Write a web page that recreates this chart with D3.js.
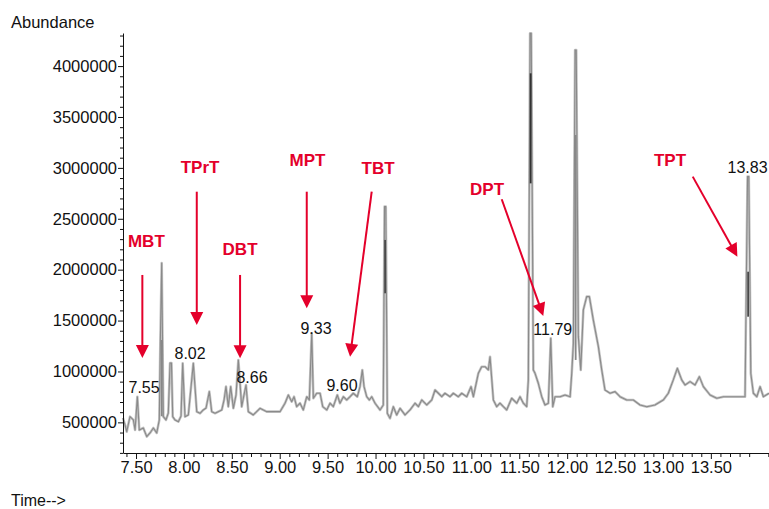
<!DOCTYPE html>
<html><head><meta charset="utf-8">
<script src="https://cdn.jsdelivr.net/npm/d3@7"></script>
<style>
body{margin:0;background:#fff}
svg text{font-family:"Liberation Sans",Arial,Helvetica,sans-serif}
</style>
</head><body>
<svg id="chart" width="769" height="509"></svg>
<script>
// ---- data ----
const times = [7.364,7.385,7.403,7.437,7.472,7.490,7.514,7.534,7.576,7.612,7.646,7.681,7.716,7.743,7.754,7.768,7.785,7.813,7.837,7.855,7.870,7.883,7.907,7.942,7.970,7.987,8.011,8.046,8.098,8.134,8.168,8.202,8.231,8.265,8.290,8.325,8.359,8.395,8.419,8.439,8.463,8.488,8.516,8.544,8.568,8.603,8.627,8.648,8.672,8.724,8.794,8.864,8.933,9.003,9.055,9.090,9.125,9.149,9.177,9.212,9.246,9.282,9.309,9.334,9.351,9.386,9.421,9.449,9.491,9.525,9.559,9.601,9.629,9.664,9.699,9.734,9.768,9.810,9.838,9.862,9.880,9.908,9.935,9.960,9.995,10.047,10.081,10.094,10.107,10.123,10.151,10.186,10.221,10.256,10.308,10.360,10.412,10.447,10.482,10.534,10.587,10.621,10.656,10.691,10.725,10.778,10.812,10.864,10.900,10.952,10.997,11.021,11.073,11.108,11.143,11.177,11.195,11.230,11.265,11.299,11.334,11.369,11.421,11.474,11.508,11.543,11.578,11.595,11.613,11.625,11.647,11.665,11.699,11.735,11.769,11.804,11.829,11.850,11.874,11.926,11.978,12.031,12.048,12.065,12.083,12.095,12.117,12.142,12.169,12.204,12.232,12.273,12.326,12.361,12.395,12.448,12.500,12.552,12.622,12.691,12.761,12.831,12.917,13.004,13.056,13.108,13.150,13.196,13.231,13.283,13.335,13.380,13.422,13.492,13.562,13.631,13.735,13.857,13.883,13.896,13.917,13.944,13.980,14.014,14.048,14.107];
const abundanceK = [543,474,409,556,524,425,752,425,445,360,396,445,396,524,1309,2066,556,524,592,1083,1083,556,524,507,563,1080,556,573,1080,605,589,622,641,802,605,589,605,622,720,851,654,851,638,769,1113,654,769,867,605,573,638,605,605,605,688,769,703,752,654,688,622,752,720,1375,737,786,786,654,622,688,654,769,688,752,720,752,786,752,851,1015,851,752,720,752,688,622,671,2619,2619,589,540,654,573,638,573,622,688,654,720,671,720,818,786,752,786,752,786,752,786,752,851,752,982,1047,1047,1015,1145,720,654,688,654,622,737,688,752,688,654,917,4322,4322,1015,982,884,752,671,688,1326,654,752,752,769,752,982,1277,4158,4158,1342,1015,1604,1735,1735,1506,1244,1015,818,786,802,752,720,720,671,654,671,720,786,917,1031,917,867,900,867,949,851,769,737,752,752,752,2914,2914,982,786,752,851,752,786];

// darker cores visible inside the tall peaks (time, low, high abundance)
const coreTimes = [11.619, 10.100, 13.889, 12.089, 7.768];
const coreLow   = [2848000, 1768000, 1538000, 1113000, 560000];
const coreHigh  = [3929000, 2292000, 1980000, 3323000, 1309000];

const xTickValues = [7.5,8.0,8.5,9.0,9.5,10.0,10.5,11.0,11.5,12.0,12.5,13.0,13.5];
const xTickLabels = ["7.50","8.00","8.50","9.00","9.50","10.00","10.50","11.00","11.50","12.00","12.50","13.00","13.50"];
const yTickValues = [500000,1000000,1500000,2000000,2500000,3000000,3500000,4000000];
const yTickLabels = ["500000","1000000","1500000","2000000","2500000","3000000","3500000","4000000"];

// compound annotations: label anchor (time, abundance) and arrow from -> to
const compounds   = ["MBT","TPrT","DBT","MPT","TBT","DPT","TPT"];
const labelT      = [7.608, 8.168, 8.586, 9.290, 10.026, 11.164, 13.074];
const labelV      = [2226000, 2947000, 2144000, 3019000, 2940000, 2734000, 3019000];
const arrowFromT  = [7.566, 8.134, 8.586, 9.282, 9.960, 11.317, 13.311];
const arrowFromV  = [1948000, 2766000, 1948000, 2766000, 2766000, 2692000, 2914000];
const arrowToT    = [7.566, 8.134, 8.586, 9.282, 9.734, 11.751, 13.777];
const arrowToV    = [1133000, 1457000, 1130000, 1621000, 1145000, 1545000, 2128000];

// retention time labels
const rtLabels = ["7.55","8.02","8.66","9.33","9.60","11.79","13.83"];
const rtT      = [7.584, 8.064, 8.711, 9.379, 9.650, 11.850, 13.883];
const rtV      = [789000, 1123000, 887000, 1368000, 811000, 1359000, 2950000];

// ---- drawing ----
const svg = d3.select("#chart");
svg.append("rect").attr("width",769).attr("height",509).attr("fill","#fff");

const x = d3.scaleLinear().domain([7.364, 14.107]).range([123, 769]);
const y = d3.scaleLinear().domain([200000, 4325000]).range([452.9, 33]);

const red = "#e4002b";
const points = times.map((t,i)=>({t, v: abundanceK[i]*1000}));

// trace: soft halo + core
const line = d3.line().x(d=>x(d.t)).y(d=>y(d.v));
svg.append("path").datum(points)
  .attr("d", line).attr("fill","none")
  .attr("stroke","#c4c4c4").attr("stroke-width",2.6)
  .attr("stroke-linejoin","round");
svg.append("path").datum(points)
  .attr("d", line).attr("fill","none")
  .attr("stroke","#8a8a8a").attr("stroke-width",1.1)
  .attr("stroke-linejoin","round");

// darker cores
svg.append("g").selectAll("line").data(coreTimes).join("line")
  .attr("x1", d=>x(d)).attr("x2", d=>x(d))
  .attr("y1", (d,i)=>y(coreLow[i])).attr("y2",(d,i)=>y(coreHigh[i]))
  .attr("stroke",(d,i)=> i===0 ? "#333" : (i===3||i===4 ? "#888" : "#4a4a4a"))
  .attr("stroke-width",1.8);

// axes
const axisFont = "16.5px";
const gx = svg.append("g").attr("transform","translate(0,453)");
gx.call(d3.axisBottom(x).tickValues(xTickValues).tickSize(6).tickSizeOuter(0).tickPadding(2)
  .tickFormat((d,i)=>xTickLabels[i]));
const xMinor = d3.range(74, 142).map(d=>d/10).filter(d=>Math.abs(d*2-Math.round(d*2))>1e-6);
svg.append("g").attr("transform","translate(0,453)")
  .call(d3.axisBottom(x).tickValues(xMinor).tickSize(4).tickFormat(""))
  .select(".domain").remove();

const gy = svg.append("g").attr("transform","translate(123,0)");
gy.call(d3.axisLeft(y).tickValues(yTickValues).tickSize(5).tickSizeOuter(0).tickPadding(1)
  .tickFormat((d,i)=>yTickLabels[i]));
const yMinor = d3.range(2, 44).map(d=>d*100000).filter(d=>d%500000!==0);
svg.append("g").attr("transform","translate(123,0)")
  .call(d3.axisLeft(y).tickValues(yMinor).tickSize(3).tickFormat(""))
  .select(".domain").remove();

svg.selectAll(".tick text").attr("font-size",axisFont)
  .attr("font-family","'Liberation Sans',Arial,sans-serif").attr("fill","#111");
svg.selectAll(".domain, .tick line").attr("stroke","#111");

// axis titles
svg.append("text").attr("x",11).attr("y",28).attr("font-size","16.5px").attr("fill","#111").text("Abundance");
svg.append("text").attr("x",11).attr("y",506).attr("font-size","16px").attr("fill","#111").text("Time-->");

// arrows
const ann = svg.append("g");
compounds.forEach((name,i)=>{
  const x1 = x(arrowFromT[i]), y1 = y(arrowFromV[i]);
  const x2 = x(arrowToT[i]),   y2 = y(arrowToV[i]);
  const dx = x2-x1, dy = y2-y1, len = Math.hypot(dx,dy);
  const ux = dx/len, uy = dy/len;
  const hl = 13, hw = 6.5;
  const bx = x2-ux*hl, by = y2-uy*hl;
  ann.append("line").attr("x1",x1).attr("y1",y1).attr("x2",bx+ux*1).attr("y2",by+uy*1)
    .attr("stroke",red).attr("stroke-width",2);
  ann.append("polygon")
    .attr("points",[[x2,y2],[bx-uy*hw,by+ux*hw],[bx+uy*hw,by-ux*hw]].map(p=>p.join(",")).join(" "))
    .attr("fill",red);
  ann.append("text").attr("x",x(labelT[i])).attr("y",y(labelV[i]))
    .attr("text-anchor","middle").attr("font-size","17px").attr("font-weight","bold")
    .attr("fill",red).text(name);
});

// RT labels
svg.append("g").selectAll("text").data(rtLabels).join("text")
  .attr("x",(d,i)=>x(rtT[i])).attr("y",(d,i)=>y(rtV[i]))
  .attr("text-anchor","middle").attr("font-size","16px").attr("fill","#111")
  .text(d=>d);
</script>
</body></html>
